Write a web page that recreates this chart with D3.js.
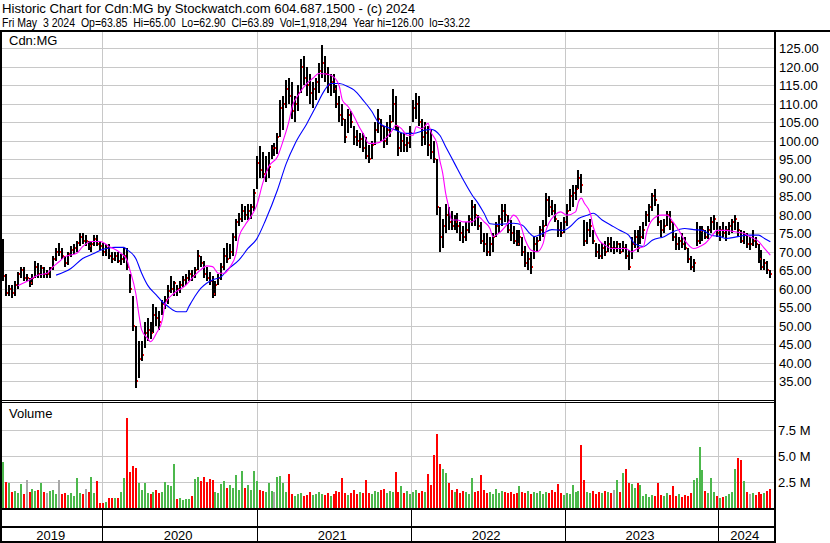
<!DOCTYPE html>
<html><head><meta charset="utf-8">
<script src="https://cdn.jsdelivr.net/npm/d3@7"></script>
<style>
body{margin:0;background:#fff}
svg{display:block}
text{font-family:"Liberation Sans",Arial,sans-serif;font-size:13px;fill:#000}
</style>
</head><body><svg id="c" width="830" height="543"></svg>
<script>
// ---------------- DATA ----------------
const titleLine1 = "Historic Chart for Cdn:MG by Stockwatch.com 604.687.1500 - (c) 2024";
const titleLine2 = "Fri May  3 2024  Op=63.85  Hi=65.00  Lo=62.90  Cl=63.89  Vol=1,918,294  Year hi=126.00  lo=33.22";
const symbol = "Cdn:MG";
const volumeTitle = "Volume";
const firstWeek = new Date(2019, 4, 10);   // weekly bars (Fridays)
const lastWeek  = new Date(2024, 4, 3);
const years = [2019, 2020, 2021, 2022, 2023, 2024];
const priceTicks = [35,40,45,50,55,60,65,70,75,80,85,90,95,100,105,110,115,120,125];
const volTicks = [2.5, 5.0, 7.5];          // millions
const volTickLabels = ["2.5 M", "5.0 M", "7.5 M"];

const hi = [73.5,64,61,61,62,64.5,66,66,64,63,64,67.5,67,66.5,66,65,66,69,71,72.5,
71,69,70,71.5,72,73,75.2,75,74.5,73,73,74.5,74.5,73,72.5,72,72,70,70,70,
69.5,71,71,64,58,50,46,46,51,52,51,56,55,54,57,58,61,63.5,62,61,
62,63.5,64,65,65,66,70.5,69,67.5,66,64.5,63.5,62,64,67,71,72.5,72,75,79,
80.5,83,82.5,83,83,87,96,98.5,97,96,97,99,99.5,102,111,112,116.5,117,116,112,
115,122,123,120,118,116,117,121,126,123,120,118,118,115,112,110,106,108.5,108,104,
103,102,102,101,99,100,105,108.5,106,104,105,107,114,112,104,102,102,101,104,111,
113,112,106,105,104,103,100,95,82,79,83,82,81,80,80.5,78,77,78,80,84,
83,80,78,75,75,74,75,78,80,83,83,80,78.5,77,76,76,74,71.5,70,70,
74,74,77,78.5,86,85,84,83,78.5,78,79.5,83,87,88,88,92,91,78.5,78,79,
76,72.5,72,72.5,73,74,74,73,73,72.5,73,72,70.5,74,76,76,77,78,81,83,
86,87,83,78.5,79,81,81,78,75,74,75,74,71,69,68,78,77,77,76,77,
79.5,80,78,77,78,77,78,79,80,78,76,75.5,75,74,76,74,72,70.5,68,67.5,65];
const lo = [62,58,58,57.5,58,60,63,62,62,60.5,61,63,63,63,63,63,63,65,67.5,69,
68,66,66.5,68.5,69.5,70,71.5,72,71.5,70.5,70,71.5,71.5,70.5,69,69,68,67,67.5,67,
66.5,67,65,59,48.5,33.2,36,40.5,44,46,46.5,48,50,49,53,54.5,56,59,58,58,
59,60.5,61,62,62,63,65,66,63,62,61,57.5,58,61,62.5,65,67,68,69,73,
77,78,78.5,78.5,79,81,87,90,90,89,90,95,96,96.5,101,103,109,110,106,105,
108,113,115,112,110,109,111,113,117,116,113,112,113,109,105,104,99.5,102,103.5,99,
98.5,98,97,95,94,95,99,102,100,98,99,101,105,103,96,97,97,97,98,105,
106,104,98.5,99,96,95,94,80,70,71,75,76,76,76,75,73,72.5,73,75,77,
77,76,72,70,69,69,70,74,75,77,78,75,73,72,71.5,71.5,69,66,65,64,
68,70,73,74,77,79.5,80,78,74,74,75,77,81,82,84,87,86,71.5,72,74,
72,68.5,68,68,69,70,70,69.5,70,69.5,70,68,65,68,71,70,72,73.5,77,78,
81,82.5,77,74,75,77,76,73,70.5,70.5,71,70.5,67,65,64.5,71.5,72,73,73.5,73.5,
75,76,74,73,74,73,74.5,75,76,74,72.5,72,71,70.5,71.5,71,67,65,65,64,62.9];
const cl = [63.5,59,60,59,61,64,65,63,63,61.5,63,66,64,65.5,64,64,65.5,68,70,70,
69,67,69.5,70.5,71,72.5,74,73,73,71.5,72,73.5,72,71.5,70,71,69,68,69,67.5,
68,69,66,60,50,35,41,42,48,49,48,53,52,51,56,57,59.5,60,61.5,60,
61,62.5,63,64,63.5,65,69,67,64,63,62,58.5,61,63,66,69,68,70,74,78,
79,81,80,81,82,86,94,92,91,92,93,98,98,101,109,110,114,112,108,110,
113,120,117,115,113,114,116,119,121,118,115,116,114,110,107,106,101,107,105,101,
100,100.5,98,96,95,99,103,106,104,100,103,105,110,104,98,100,99,99.5,102,109,
110,105,101,102,99,97,95,82,74,77,80,78,77,78,77,75,74,76,79,82,
80,77,73,72,70,72,74,77,79,81,80,76,75,73,72,74,70,67,68,66,
72,73,76,77,84,82,81,79,76,75,78,81,85,86,87,90,88,73,76,77,
73,70,69,71,70,72,71,71,72,70,71,69,66,72,74,71,74,76,80,82,
85,84,78,76,77,80,78,74,72,73,72,71,68,66,67,73,75.5,76,74,76,
78,79,75,76,75,76,77,78,79,76,73,74.5,72,72,73,72,68,66,67,65,63.89];
const vol = [4.5,2.5,2.4,1.6,1.7,1.5,2.3,1.4,2.7,1.6,1.9,1.7,1.8,2.4,1.6,1.5,1.7,1.8,1.4,2.7,
1.4,1.5,1.3,1.5,1.2,2.9,1.5,1.4,1.9,1.6,3.0,1.5,2.6,0.5,0.5,0.6,1.0,1.0,1.0,1.0,
1.6,2.9,8.7,3.5,4.1,3.9,2.4,1.8,2.4,1.5,1.4,1.6,1.8,1.5,1.6,2.5,2.2,2.1,4.3,0.9,
1.0,0.8,0.9,0.9,1.2,2.8,3.0,2.6,3.0,2.5,2.8,2.7,1.6,1.5,2.3,2.6,2.0,2.2,2.0,3.2,
1.8,3.6,2.0,2.2,1.8,3.6,2.6,1.8,1.7,1.6,2.4,1.7,1.6,3.0,3.1,2.4,1.6,3.3,1.4,1.2,
1.4,1.5,1.2,1.3,1.6,1.3,1.4,1.6,1.4,1.3,1.5,1.2,1.4,1.7,1.6,2.9,1.5,1.3,1.5,1.8,
1.4,1.6,1.5,2.7,1.5,1.4,1.7,1.6,1.8,1.9,1.5,1.7,1.6,3.5,1.6,2.1,1.5,1.7,1.4,1.6,
1.8,1.5,1.7,1.6,3.3,2.2,5.1,7.1,4.3,3.8,3.4,2.4,1.8,1.6,1.9,1.5,1.7,1.6,1.4,2.9,
1.6,1.7,3.2,1.8,1.5,1.6,1.4,1.9,1.5,1.7,1.6,1.5,1.6,1.4,1.5,2.1,1.6,1.5,1.7,1.4,
1.6,1.5,1.7,1.4,1.6,1.5,1.8,1.6,2.3,1.5,1.3,1.5,1.4,2.2,1.6,1.7,6.1,2.7,1.6,1.5,
1.7,1.4,1.6,1.5,1.7,1.6,1.5,1.8,2.7,1.6,3.4,3.8,2.4,2.3,2.0,2.4,2.2,1.2,1.4,1.1,
1.3,1.2,2.4,1.3,1.2,1.5,1.3,2.1,1.2,1.4,1.1,1.3,1.2,1.5,2.7,2.9,5.9,3.7,1.7,1.5,
2.9,1.6,1.2,1.0,1.1,1.2,1.4,1.6,3.8,4.8,4.6,2.6,1.6,1.4,1.5,1.3,1.6,1.4,1.5,1.7,1.9];

// moving averages: [week index, value]
const maFast = [[5,60.8],[9,62.4],[12,63.7],[15,64.2],[17,66],[19,67.3],[21,68.7],[25,69.6],[27,71.4],[30,72.8],
[33,72.8],[36,71.4],[40,69.6],[42,67.8],[43,65.1],[45,58.8],[46,53.4],[47,48.9],[49,46.6],[50,45.7],
[52,48],[54,51.6],[55,56.1],[58,58.8],[62,61],[64,62.8],[67,65.1],[69,66.2],[71,66],[73,64.2],
[75,64.2],[77,66],[79,69.6],[80,74.1],[82,77.2],[84,79.5],[86,82.6],[88,88.5],[90,93],[93,95.7],
[95,100.2],[97,105.6],[98,109.2],[100,112.3],[103,115.5],[105,116.9],[107,118.2],[110,118],[112,117.3],[114,114.6],
[115,111],[117,109.2],[119,106.5],[121,103.3],[122,102],[124,99.3],[126,99.3],[129,100.2],[132,102.9],[133,104.2],
[135,103.3],[137,101.5],[139,101.5],[140,103.8],[142,103.3],[144,104.7],[145,102.4],[147,99.3],[148,94.8],[149,91.2],
[150,85.8],[151,82.2],[152,78.6],[154,78.6],[156,78.1],[159,78.1],[161,79.5],[163,78.1],[165,76.3],[166,74.1],
[168,75],[171,77.6],[173,79.9],[175,78.1],[177,73.1],[179,70.4],[181,70],[183,72.2],[184,75.8],[187,79.9],
[189,80.8],[191,79.9],[194,80.8],[195,83.5],[196,84.5],[197,83.1],[199,80.4],[200,76.7],[202,73.1],[204,71.8],
[206,70.9],[209,70.9],[211,70.9],[213,70],[215,70.9],[217,71.4],[218,75],[220,78.6],[223,79.9],[225,79.9],
[227,78.1],[229,75.8],[231,73.1],[234,70.9],[236,71.4],[238,72.3],[240,74.1],[242,75.8],[245,75.8],[248,75.4],
[251,75],[253,74.1],[256,72.8],[258,70.9],[260,69.1]];
const maSlow = [[18,63.7],[23,65.5],[27,68.2],[31,69.6],[33,70.4],[35,70.9],[38,71.2],[41,71.2],[42,70.6],[45,68.2],
[47,64.2],[49,61],[52,58.3],[54,56.5],[56,55.2],[59,53.8],[62,53.8],[63,55.2],[65,57.9],[67,60.1],
[69,61.5],[71,62.4],[74,63.3],[76,65.1],[80,67.8],[83,70.9],[86,73.5],[89,78.6],[93,86.7],[96,93.9],
[99,99.3],[103,104.7],[106,109.2],[109,113.7],[111,115.5],[114,115.5],[117,114.6],[119,113.7],[122,111],[125,107.9],
[127,105.2],[130,103.7],[133,102.9],[136,102],[139,102],[143,102.9],[145,103.1],[148,101.5],[150,98.4],[153,93.9],
[156,89.4],[159,85.3],[161,83.1],[163,80.4],[165,77.6],[168,77.4],[171,77.6],[173,77.7],[176,77.2],[178,75.4],
[180,74.1],[183,75],[186,76],[190,75.8],[192,76.7],[195,79],[198,79.9],[200,80.4],[203,78.6],[206,77.2],
[209,75.8],[212,74.5],[214,72.2],[217,71.4],[218,71.8],[220,73.1],[224,74.1],[227,75.4],[231,76.3],[234,76],
[237,75.8],[240,74.5],[243,74.1],[245,73.6],[249,74.1],[252,74.5],[256,74.5],[258,73.6],[260,72.7]];

// ---------------- CHART ----------------
const svg = d3.select("#c");
const W = 830, H = 543;
const plotL = 2, plotR = 774;
const priceTop = 32, priceBot = 400, volTop = 402, volBot = 508;
const grid = "#c8c8c8";

const weeks = d3.timeFriday.range(firstWeek, d3.timeDay.offset(lastWeek, 1));
const x = d3.scaleTime().domain([new Date(2019,4,3), new Date(2024,4,10)]).range([0, 773.3]);
const yP = d3.scaleLinear().domain([30, 125]).range([399.8, 48.3]);
const yV = d3.scaleLinear().domain([0, 10]).range([508.3, 404.3]);
const px = v => Math.round(v);

svg.append("rect").attr("width", W).attr("height", H).attr("fill", "#fff");

// clip paths
const defs = svg.append("defs");
defs.append("clipPath").attr("id","cp").append("rect").attr("x",plotL).attr("y",priceTop).attr("width",plotR-plotL).attr("height",priceBot-priceTop);
defs.append("clipPath").attr("id","cv").append("rect").attr("x",plotL).attr("y",volTop).attr("width",plotR-plotL).attr("height",volBot-volTop);

// grid
const g = svg.append("g").attr("shape-rendering","crispEdges");
g.selectAll("line.pg").data(priceTicks).join("line")
  .attr("x1", plotL).attr("x2", plotR).attr("y1", d=>px(yP(d))+0.5).attr("y2", d=>px(yP(d))+0.5)
  .attr("stroke", grid);
g.selectAll("line.vg").data(volTicks).join("line").attr("class","vg")
  .attr("x1", plotL).attr("x2", plotR).attr("y1", d=>px(yV(d))+0.5).attr("y2", d=>px(yV(d))+0.5)
  .attr("stroke", grid);
const yearStarts = years.slice(1).map(y => new Date(y, 0, 1));
yearStarts.forEach(d => {
  const xx = px(x(d)) + 0.5;
  g.append("line").attr("x1",xx).attr("x2",xx).attr("y1",priceTop).attr("y2",priceBot).attr("stroke",grid);
  g.append("line").attr("x1",xx).attr("x2",xx).attr("y1",volTop).attr("y2",volBot).attr("stroke",grid);
});

// price bars
const bars = svg.append("g").attr("clip-path","url(#cp)").attr("shape-rendering","crispEdges");
bars.selectAll("rect.b").data(weeks).join("rect").attr("class","b")
  .attr("x", d => px(x(d)) - 1).attr("width", 2)
  .attr("y", (d,i) => px(yP(hi[i])))
  .attr("height", (d,i) => Math.max(1, px(yP(lo[i])) - px(yP(hi[i]))))
  .attr("fill", "#000");
bars.selectAll("rect.c").data(weeks).join("rect").attr("class","c")
  .attr("x", d => px(x(d)) + 1).attr("width", 1)
  .attr("y", (d,i) => px(yP(cl[i])) - 1).attr("height", 2)
  .attr("fill", "#ff0000");

// moving averages
const wk = i => d3.timeWeek.offset(firstWeek, i);
const line = d3.line().x(d => x(wk(d[0]))).y(d => yP(d[1])).curve(d3.curveMonotoneX);
const maG = svg.append("g").attr("clip-path","url(#cp)");
maG.append("path").attr("d", line(maSlow)).attr("fill","none").attr("stroke","#0000ff").attr("stroke-width",1.1);
maG.append("path").attr("d", line(maFast)).attr("fill","none").attr("stroke","#ff00ff").attr("stroke-width",1.1);

// volume bars
const vg = svg.append("g").attr("clip-path","url(#cv)").attr("shape-rendering","crispEdges");
vg.selectAll("rect").data(weeks).join("rect")
  .attr("x", d => px(x(d)) - 1).attr("width", 2)
  .attr("y", (d,i) => px(yV(vol[i])))
  .attr("height", (d,i) => px(yV(0)) - px(yV(vol[i])))
  .attr("fill", (d,i) => i === 0 || cl[i] > cl[i-1] ? "#4cb84c" : (cl[i] < cl[i-1] ? "#ff0000" : "#a8a8a8"));

// frame
const f = svg.append("g").attr("shape-rendering","crispEdges").attr("fill","#000");
f.append("rect").attr("x",0).attr("y",30).attr("width",W).attr("height",2);
f.append("rect").attr("x",0).attr("y",30).attr("width",2).attr("height",H-30);
f.append("rect").attr("x",plotR).attr("y",30).attr("width",2).attr("height",512);
f.append("rect").attr("x",0).attr("y",400).attr("width",plotR).attr("height",1);
f.append("rect").attr("x",0).attr("y",402).attr("width",plotR).attr("height",1);
f.append("rect").attr("x",0).attr("y",508).attr("width",plotR+2).attr("height",2);
f.append("rect").attr("x",0).attr("y",526).attr("width",plotR+2).attr("height",2);
f.append("rect").attr("x",0).attr("y",541).attr("width",plotR+2).attr("height",2);
yearStarts.forEach(d => {
  f.append("rect").attr("x", px(x(d))).attr("y",510).attr("width",1).attr("height",31);
});

// year labels
years.forEach(y => {
  const a = Math.max(plotL, x(new Date(y,0,1))), b = Math.min(plotR, x(new Date(y+1,0,1)));
  svg.append("text").attr("x", (a+b)/2 - 1.5).attr("y", 539.5).attr("text-anchor","middle").text(String(y));
});

// axis labels
svg.selectAll("text.pt").data(priceTicks).join("text").attr("class","pt")
  .attr("x", 779).attr("y", d => yP(d) + 4.7).text(d => d.toFixed(2));
svg.selectAll("text.vt").data(volTicks).join("text").attr("class","vt")
  .attr("x", 778).attr("y", d => yV(d) + 4.7).text((d,i) => volTickLabels[i]);

// titles
svg.append("text").attr("x", 2).attr("y", 13).attr("textLength", 413).attr("lengthAdjust","spacingAndGlyphs").text(titleLine1);
svg.append("text").attr("x", 2).attr("y", 26.5).attr("textLength", 468).attr("lengthAdjust","spacingAndGlyphs")
  .style("white-space","pre").text(titleLine2);
svg.append("text").attr("x", 9).attr("y", 45).text(symbol);
svg.append("text").attr("x", 9).attr("y", 417.5).text(volumeTitle);
</script>
</body></html>
